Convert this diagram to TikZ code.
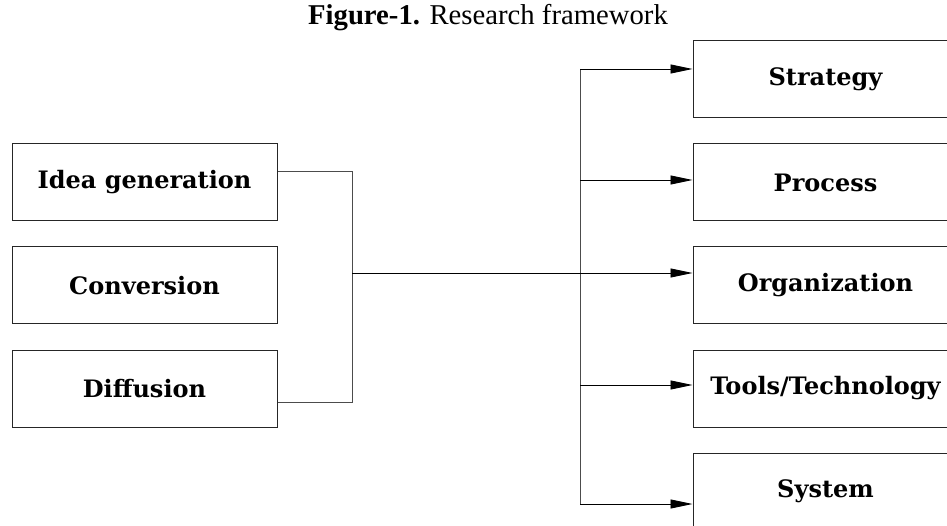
\documentclass[tikz,border=0pt]{standalone}
\usepackage{fontspec}
\setmainfont{Liberation Serif}
\newfontfamily\boxfont{DejaVu Serif}
\usetikzlibrary{arrows.meta}
\tikzset{
  blockbox/.style={draw=black!85, line width=1pt, minimum width=265pt,
    minimum height=77pt, inner sep=0pt,
    font=\boxfont\bfseries\fontsize{24}{28}\selectfont},
  link/.style={draw=black!70, line width=0.9pt},
  feed/.style={draw=black, line width=0.9pt, -{Triangle[length=22pt, width=9pt]}}
}
\begin{document}
\begin{tikzpicture}[x=1pt, y=-1pt]
      \clip (0,0) rectangle (947,526);
      \node[font=\fontsize{28.7}{34}\selectfont] (title) at (488,18)
        {\textbf{Figure-1.} Research framework};
      \draw
        (144.5,182.5) node[blockbox] (idea){Idea generation}
        (144.5,285.5) node[blockbox] (conv){Conversion}
        (144.5,388.5) node[blockbox] (diff){Diffusion}
        (825.5,79.5) node[blockbox] (strat){Strategy}
        (825.5,182.5) node[blockbox] (proc){Process}
        (825.5,285.5) node[blockbox] (org){Organization}
        (825.5,388.5) node[blockbox] (tools){Tools/Technology}
        (825.5,491.5) node[blockbox] (sys){System};
      \coordinate (join) at (352,273);
      \coordinate (b1) at (580,69);
      \coordinate (b2) at (580,180);
      \coordinate (b3) at (580,273);
      \coordinate (b4) at (580,385);
      \coordinate (b5) at (580,504);
      \begin{scope}[link]
        \draw ([yshift=11.5pt]idea.east) -| (join);
        \draw ([yshift=-13.5pt]diff.east) -| (join);
        \draw (b1) -- (b5);
      \end{scope}
      \begin{scope}[feed]
        \draw (b1) -- (b1 -| strat.west);
        \draw (b2) -- (b2 -| proc.west);
        \draw (join) -- (join -| org.west);
        \draw (b4) -- (b4 -| tools.west);
        \draw (b5) -- (b5 -| sys.west);
      \end{scope}
    \end{tikzpicture}
\end{document}
